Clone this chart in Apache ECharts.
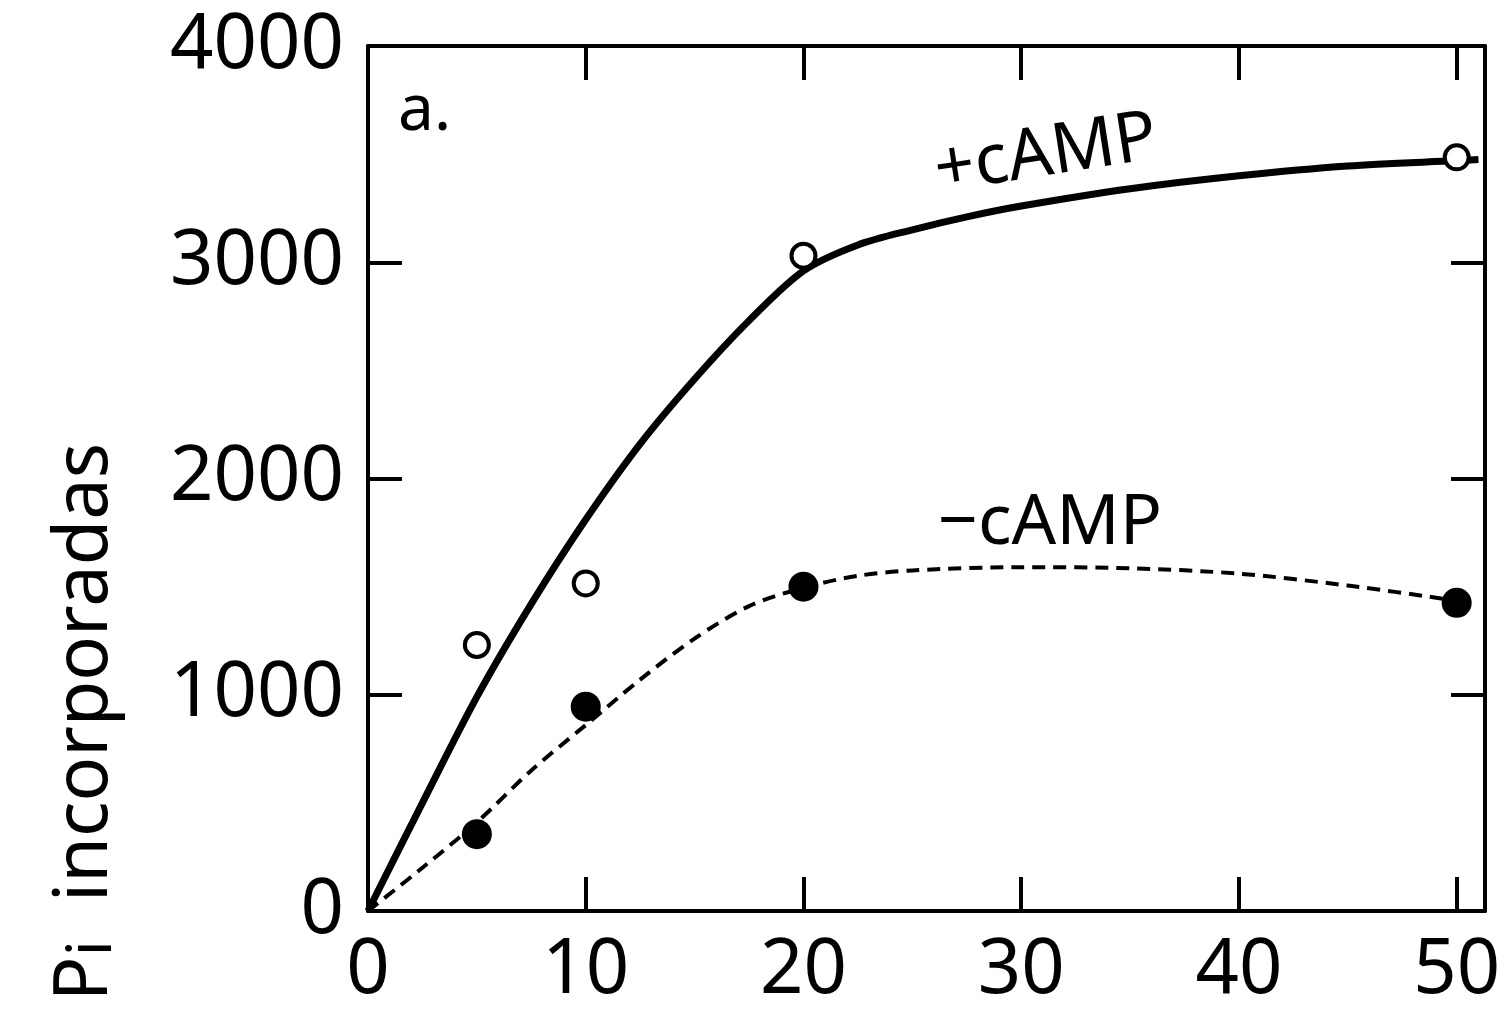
<!DOCTYPE html>
<html>
<head>
<meta charset="utf-8">
<title>Pi incorporadas</title>
<script src="https://cdn.jsdelivr.net/npm/echarts@6/dist/echarts.min.js"></script>
<style>
  html, body { margin: 0; padding: 0; background: #fff; }
  #chart { width: 1506px; height: 1009px; }
</style>
</head>
<body>
<div id="chart"></div>
<script>
// Time points (min) at which incorporation was measured
const timePoints = [5, 10, 20, 50];
// Measured Pi incorporated, with and without cAMP
const plusCampValues = [1230, 1515, 3030, 3485];
const minusCampValues = [355, 945, 1500, 1425];

// Hand-drawn trend curves through each set of measurements
const plusCurveX = [0, 2.5, 5, 7.5, 10, 12.5, 15, 17.5, 20, 22.5, 25, 27.5, 30, 35, 40, 45, 50, 51];
const plusCurveY = [0, 500, 990, 1420, 1810, 2160, 2460, 2730, 2960, 3080, 3150, 3210, 3260, 3340, 3400, 3445, 3470, 3475];
const minusCurveX = [0, 2.5, 5, 7.5, 10, 12.5, 15, 17.5, 20, 22.5, 25, 30, 35, 40, 45, 50];
const minusCurveY = [0, 200, 410, 650, 860, 1070, 1260, 1410, 1495, 1550, 1575, 1590, 1585, 1560, 1505, 1435];

// Axis ticks
const xTickLabels = [0, 10, 20, 30, 40, 50];
const xInnerTicks = [10, 20, 30, 40, 50];
const yTickLabels = [0, 1000, 2000, 3000, 4000];
const yInnerTicks = [1000, 2000, 3000];

const zip = (xs, ys) => xs.map((x, i) => [x, ys[i]]);

const FONT = '"Noto Sans", "DejaVu Sans", sans-serif';
const INK = '#000';
const AXIS_W = 4;
const plain = (v) => String(v);

function frameAxis(position, min, max, innerTicks, labels) {
  return {
    type: 'value', position: position, min: min, max: max,
    axisLine: { show: true, onZero: false, lineStyle: { color: INK, width: AXIS_W } },
    splitLine: { show: false },
    axisTick: { show: true, inside: true, length: 34, customValues: innerTicks,
                lineStyle: { color: INK, width: AXIS_W } },
    axisLabel: labels
      ? Object.assign({ show: true, color: INK, fontFamily: FONT, fontSize: 76, formatter: plain }, labels)
      : { show: false }
  };
}

const chart = echarts.init(document.getElementById('chart'), null, { renderer: 'canvas' });

chart.setOption({
  backgroundColor: '#fff',
  animation: false,
  grid: { left: 368, right: 21, top: 46, bottom: 96, containLabel: false },
  xAxis: [
    frameAxis('bottom', 0, 51.3, xInnerTicks, { customValues: xTickLabels, margin: 22 }),
    frameAxis('top', 0, 51.3, xInnerTicks, null)
  ],
  yAxis: [
    frameAxis('left', 0, 4000, yInnerTicks, { customValues: yTickLabels, margin: 24 }),
    frameAxis('right', 0, 4000, yInnerTicks, null)
  ],
  graphic: [
    {
      type: 'text', x: 86, y: 722, rotation: Math.PI / 2,
      style: {
        text: '{p|P}{s|i}{p|  incorporadas}',
        fill: INK, align: 'center', verticalAlign: 'middle',
        rich: {
          p: { fontFamily: FONT, fontSize: 74, fill: INK },
          s: { fontFamily: FONT, fontSize: 62, fill: INK, padding: [14, 0, 0, 0] }
        }
      }
    },
    {
      type: 'text', x: 398, y: 112,
      style: { text: 'a.', fill: INK, fontFamily: FONT, fontSize: 64,
               align: 'left', verticalAlign: 'middle' }
    },
    {
      type: 'text', x: 1046, y: 155, rotation: 0.155,
      style: { text: '+cAMP', fill: INK, fontFamily: FONT, fontSize: 70,
               align: 'center', verticalAlign: 'middle' }
    },
    {
      type: 'text', x: 1050, y: 524,
      style: { text: '\u2212cAMP', fill: INK, fontFamily: FONT, fontSize: 70,
               align: 'center', verticalAlign: 'middle' }
    }
  ],
  series: [
    {
      name: '+cAMP curve', type: 'line', xAxisIndex: 0, yAxisIndex: 0,
      data: zip(plusCurveX, plusCurveY), smooth: 0.3, showSymbol: false,
      lineStyle: { color: INK, width: 7 }, z: 2
    },
    {
      name: '-cAMP curve', type: 'line', xAxisIndex: 0, yAxisIndex: 0,
      data: zip(minusCurveX, minusCurveY), smooth: 0.3, showSymbol: false,
      lineStyle: { color: INK, width: 4, type: [13, 8] }, z: 2
    },
    {
      name: '+cAMP', type: 'scatter', xAxisIndex: 0, yAxisIndex: 0,
      data: zip(timePoints, plusCampValues), symbol: 'circle', symbolSize: 24,
      itemStyle: { color: '#fff', borderColor: INK, borderWidth: 4, opacity: 1 }, z: 3
    },
    {
      name: '-cAMP', type: 'scatter', xAxisIndex: 0, yAxisIndex: 0,
      data: zip(timePoints, minusCampValues), symbol: 'circle', symbolSize: 30,
      itemStyle: { color: INK, opacity: 1 }, z: 3
    }
  ]
});
</script>
</body>
</html>
